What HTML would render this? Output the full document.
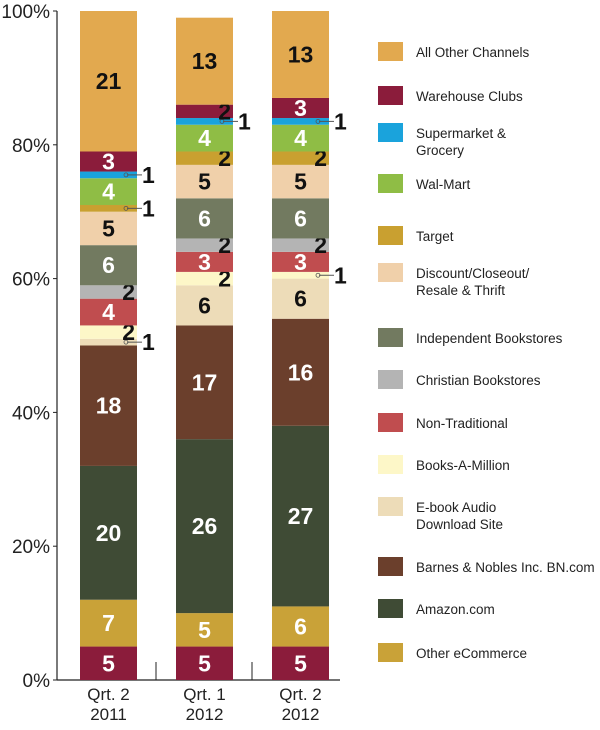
<!DOCTYPE html>
<html><head><meta charset="utf-8"><style>
body{margin:0;background:#fff;width:600px;height:725px;overflow:hidden;font-family:"Liberation Sans",sans-serif}
svg text{font-family:"Liberation Sans",sans-serif}
</style></head><body>
<svg id="chart" width="600" height="725" xmlns="http://www.w3.org/2000/svg"></svg>
<script>
const categories=["Qrt. 2|2011","Qrt. 1|2012","Qrt. 2|2012"];
const seriesNames=["Unlabeled","Other eCommerce","Amazon.com","Barnes & Nobles Inc. BN.com","E-book Audio|Download Site","Books-A-Million","Non-Traditional","Christian Bookstores","Independent Bookstores","Discount/Closeout/|Resale & Thrift","Target","Wal-Mart","Supermarket &|Grocery","Warehouse Clubs","All Other Channels"];
const colors=["#8b1c3b","#c9a238","#3f4b35","#6b3f2c","#eddcb8","#fdf7c8","#c04d4f","#b4b4b4","#727a60","#f0d0aa","#c9a030","#8fbd45","#1aa3dc","#8b1c3b","#e2a94f"];
const darkText=[0,0,0,0,1,1,0,1,0,1,1,0,0,0,1];
const s2011=[5,7,20,18,1,2,4,2,6,5,1,4,1,3,21];
const s2012q1=[5,5,26,17,6,2,3,2,6,5,2,4,1,2,13];
const s2012q2=[5,6,27,16,6,1,3,2,6,5,2,4,1,3,13];
const values=[s2011,s2012q1,s2012q2];
const yTicks=[0,20,40,60,80,100];
const NS="http://www.w3.org/2000/svg",svg=document.getElementById("chart");
function mk(t,a,p){const e=document.createElementNS(NS,t);for(const k in a)e.setAttribute(k,a[k]);(p||svg).appendChild(e);return e;}
const y0=680,y100=11,y=v=>y0-(y0-y100)*v/100;
const barX=[80,176,272],bw=57,x=i=>barX[i];
// axes
let ax=mk("line",{x1:57,y1:11,x2:57,y2:680,stroke:"#222","stroke-width":1.2});


let bx=mk("line",{x1:57,y1:680,x2:340,y2:680,stroke:"#222","stroke-width":1.2});


[156,252].forEach(tx=>{mk("line",{x1:tx,y1:662,x2:tx,y2:680,stroke:"#222","stroke-width":1});});
yTicks.forEach(t=>{
 const tl=mk("text",{x:50,y:y(t)+7,"text-anchor":"end","font-size":19,fill:"#222"});
 tl.textContent=t+"%";
 
 
 mk("line",{x1:53,y1:y(t),x2:57,y2:y(t),stroke:"#222"});
});
categories.forEach((c,i)=>{
 const parts=c.split("|");
 parts.forEach((p,j)=>{
  const t=mk("text",{x:x(i)+bw/2,y:700+j*20,"text-anchor":"middle","font-size":17,fill:"#222"});
  t.textContent=p;
  
  
 });
 let cum=0;
 values[i].forEach((v,s)=>{
  const top=y(cum+v),bot=y(cum);
  const r=mk("rect",{x:x(i),y:top,width:bw,height:bot-top,fill:colors[s]});
  
  
  const mid=(top+bot)/2,fill=darkText[s]?"#111":"#fff";
  let t;
  if(v>=3){t=mk("text",{x:x(i)+bw/2,y:mid+8,"text-anchor":"middle","font-size":23,"font-weight":"bold",fill:fill});}
  else if(v==2){t=mk("text",{x:x(i)+bw-2,y:mid+8,"text-anchor":"end","font-size":23,"font-weight":"bold",fill:"#111"});}
  else{
   mk("line",{x1:x(i)+bw-10,y1:mid,x2:x(i)+bw+5,y2:mid,stroke:"#555","stroke-width":1});
   mk("circle",{cx:x(i)+bw-11,cy:mid,r:2,fill:"none",stroke:"#555","stroke-width":0.8});
   t=mk("text",{x:x(i)+bw+5,y:mid+8,"font-size":23,"font-weight":"bold",fill:"#111"});
  }
  t.textContent=v;
  
  
  cum+=v;
 });
});
// legend
const legY=[52,96,133,184,236,273,338,380,423,465,507,567,609,653];
for(let k=0;k<14;k++){
 const s=14-k;
 const sw=mk("rect",{x:378,y:legY[k]-10,width:25,height:19,fill:colors[s]});
 
 
 seriesNames[s].split("|").forEach((p,j)=>{
  const t=mk("text",{x:416,y:legY[k]+5+j*17,"font-size":13.5,fill:"#222"});
  t.textContent=p;
  
  
 });
}
</script>
</body></html>
